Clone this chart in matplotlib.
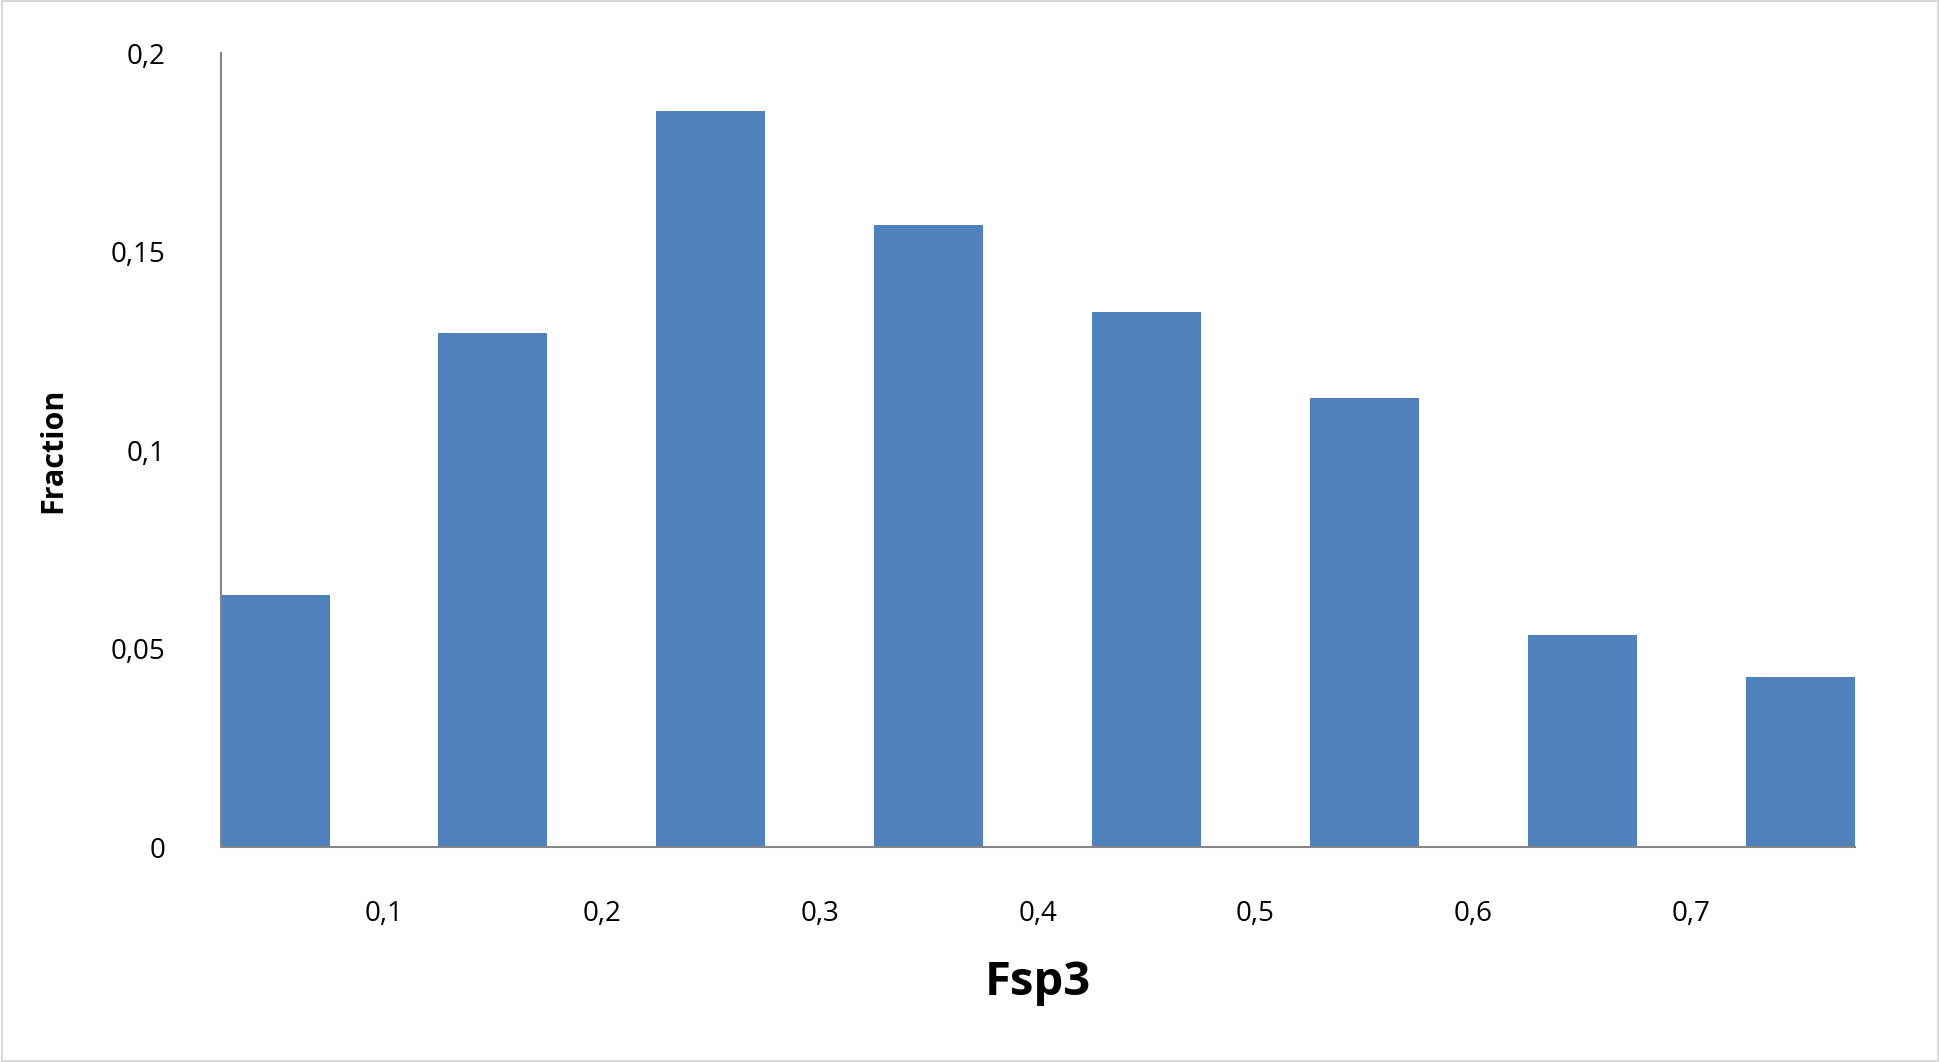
import matplotlib
matplotlib.use("Agg")
import matplotlib.pyplot as plt
from matplotlib.patches import Rectangle

plt.rcParams['font.family'] = ['Open Sans', 'DejaVu Sans']

fractions = [0.0636, 0.1296, 0.1854, 0.1567, 0.1349, 0.1131, 0.0536, 0.0430]
xtick_labels = ['0,1', '0,2', '0,3', '0,4', '0,5', '0,6', '0,7']
ytick_values = [0, 0.05, 0.1, 0.15, 0.2]
ytick_labels = ['0', '0,05', '0,1', '0,15', '0,2']

fig = plt.figure(figsize=(19.4, 10.62), dpi=100)
ax = fig.add_axes([0.1137, 0.202, 0.956 - 0.1137, 0.748])
fig.patches.append(Rectangle((0.001, 0.001), 0.998, 0.998, transform=fig.transFigure,
                             fill=False, edgecolor='#d9d9d9', linewidth=1.5))

x = list(range(len(fractions)))
ax.bar(x, fractions, width=0.5, color='#4F81BD')
ax.set_xlim(-0.25, len(fractions) - 0.75)
ax.set_ylim(0, 0.2)
ax.set_xticks([i + 0.5 for i in range(len(xtick_labels))])
ax.set_xticklabels(xtick_labels, fontsize=20)
ax.set_yticks(ytick_values)
ax.set_yticklabels(ytick_labels, fontsize=20)
ax.tick_params(axis='both', length=0)
ax.tick_params(axis='x', pad=38)
ax.tick_params(axis='y', pad=40)
for s in ['top', 'right']:
    ax.spines[s].set_visible(False)
for s in ['left', 'bottom']:
    ax.spines[s].set_color('#868686')
    ax.spines[s].set_linewidth(1.5)
ax.set_xlabel('Fsp3', fontsize=34, fontweight='bold', labelpad=22)
ax.set_ylabel('Fraction', fontsize=22, fontweight='bold', labelpad=30)
fig.savefig('out.png', dpi=100)
